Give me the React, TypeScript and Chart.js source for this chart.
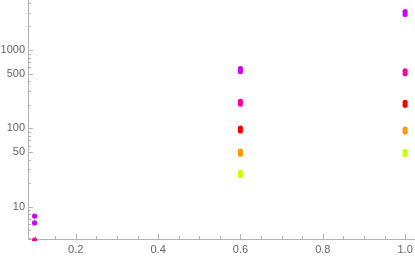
import React, { useEffect, useRef } from "react";
import { Chart, registerables } from "chart.js";

Chart.register(...registerables);

// Data (x, y) per colour series
const purpleX = [0.1, 0.1, 0.6, 0.6, 1.0, 1.0];
const purpleY = [7.6, 6.2, 581, 532, 3097, 2839];
const magentaX = [0.1, 0.6, 0.6, 1.0, 1.0];
const magentaY = [3.76, 222, 204, 543, 497];
const redX = [0.6, 0.6, 1.0, 1.0];
const redY = [101, 92.5, 215, 197];
const orangeX = [0.6, 0.6, 1.0, 1.0];
const orangeY = [51.1, 46.8, 98.2, 90];
const yellowX = [0.6, 0.6, 1.0, 1.0];
const yellowY = [27.4, 25.1, 50.8, 46.4];

const xMajorTicks = [0.2, 0.4, 0.6, 0.8, 1.0];
const xMinorTicks = [0.1, 0.15, 0.25, 0.3, 0.35, 0.45, 0.5, 0.55, 0.65, 0.7, 0.75, 0.85, 0.9, 0.95];
const yMajorTicks = [10, 50, 100, 500, 1000];
const yMinorTicks = [4, 5, 6, 7, 8, 9, 20, 30, 40, 60, 70, 80, 90, 200, 300, 400, 600, 700, 800, 900, 2000, 3000, 4000];

const AXIS_COLOR = "#b3b3b3";
const LABEL_COLOR = "#666666";

function pts(xs: number[], ys: number[]) {
  return xs.map((x, i) => ({ x, y: ys[i] }));
}

const tickPlugin = {
  id: "insideTicks",
  beforeDatasetsDraw(chart: any) {
    const { ctx, chartArea, scales } = chart;
    const xs = scales.x;
    const ys = scales.y;
    ctx.save();
    ctx.strokeStyle = AXIS_COLOR;
    ctx.lineWidth = 1;
    ctx.beginPath();
    const drawX = (v: number, len: number) => {
      const px = Math.round(xs.getPixelForValue(v)) + 0.5;
      ctx.moveTo(px, chartArea.bottom);
      ctx.lineTo(px, chartArea.bottom - len);
    };
    const drawY = (v: number, len: number) => {
      const py = Math.round(ys.getPixelForValue(v)) + 0.5;
      if (py < chartArea.top || py > chartArea.bottom) return;
      ctx.moveTo(chartArea.left, py);
      ctx.lineTo(chartArea.left + len, py);
    };
    xMajorTicks.forEach((v) => drawX(v, 5));
    xMinorTicks.forEach((v) => drawX(v, 3));
    yMajorTicks.forEach((v) => drawY(v, 5));
    yMinorTicks.forEach((v) => drawY(v, 3));
    ctx.stroke();
    ctx.restore();
  },
};

export default function App() {
  const canvasRef = useRef<HTMLCanvasElement>(null);

  useEffect(() => {
    document.body.style.margin = "0";
    const canvas = canvasRef.current;
    if (!canvas) return;
    const mk = (label: string, xs: number[], ys: number[], color: string) => ({
      label,
      data: pts(xs, ys),
      backgroundColor: color,
      borderColor: color,
      pointRadius: 2.6,
      pointHoverRadius: 2.6,
      borderWidth: 0,
      clip: { left: 5, right: 5, top: 5, bottom: 2 },
    });
    const chart = new Chart(canvas, {
      type: "scatter",
      data: {
        datasets: [
          mk("a", purpleX, purpleY, "#cc00ff"),
          mk("b", magentaX, magentaY, "#ff0099"),
          mk("c", redX, redY, "#ff0000"),
          mk("d", orangeX, orangeY, "#ff9900"),
          mk("e", yellowX, yellowY, "#ccff00"),
        ],
      },
      options: {
        animation: false,
        responsive: false,
        events: [],
        layout: { padding: 0, autoPadding: false },
        plugins: { legend: { display: false }, tooltip: { enabled: false } },
        scales: {
          x: {
            type: "linear",
            min: 0.084,
            max: 1.024,
            afterBuildTicks: (scale: any) => {
              scale.ticks = xMajorTicks.map((v) => ({ value: v }));
            },
            afterFit: (scale: any) => {
              scale.height = 20;
              scale.paddingLeft = 0;
              scale.paddingRight = 0;
            },
            grid: { drawOnChartArea: false, drawTicks: false },
            border: { display: true, color: AXIS_COLOR, width: 1 },
            ticks: {
              padding: 4,
              color: LABEL_COLOR,
              font: { family: "'Liberation Sans', Arial, sans-serif", size: 11 },
              maxRotation: 0,
              autoSkip: false,
              callback: (v: any) => Number(v).toFixed(1),
            },
          },
          y: {
            type: "logarithmic",
            min: 3.87,
            max: 4350,
            afterBuildTicks: (scale: any) => {
              scale.ticks = yMajorTicks.map((v) => ({ value: v }));
            },
            afterFit: (scale: any) => {
              scale.width = 28;
              scale.paddingTop = 0;
              scale.paddingBottom = 0;
            },
            grid: { drawOnChartArea: false, drawTicks: false },
            border: { display: true, color: AXIS_COLOR, width: 1 },
            ticks: {
              padding: 3,
              color: LABEL_COLOR,
              font: { family: "'Liberation Sans', Arial, sans-serif", size: 11 },
              autoSkip: false,
              callback: (v: any) => String(v),
            },
          },
        },
      },
      plugins: [tickPlugin],
    } as any);
    return () => chart.destroy();
  }, []);

  return (
    <div style={{ position: "absolute", left: 0, top: 0, width: 415, height: 259 }}>
      <canvas ref={canvasRef} width={415} height={259} style={{ display: "block" }} />
    </div>
  );
}
